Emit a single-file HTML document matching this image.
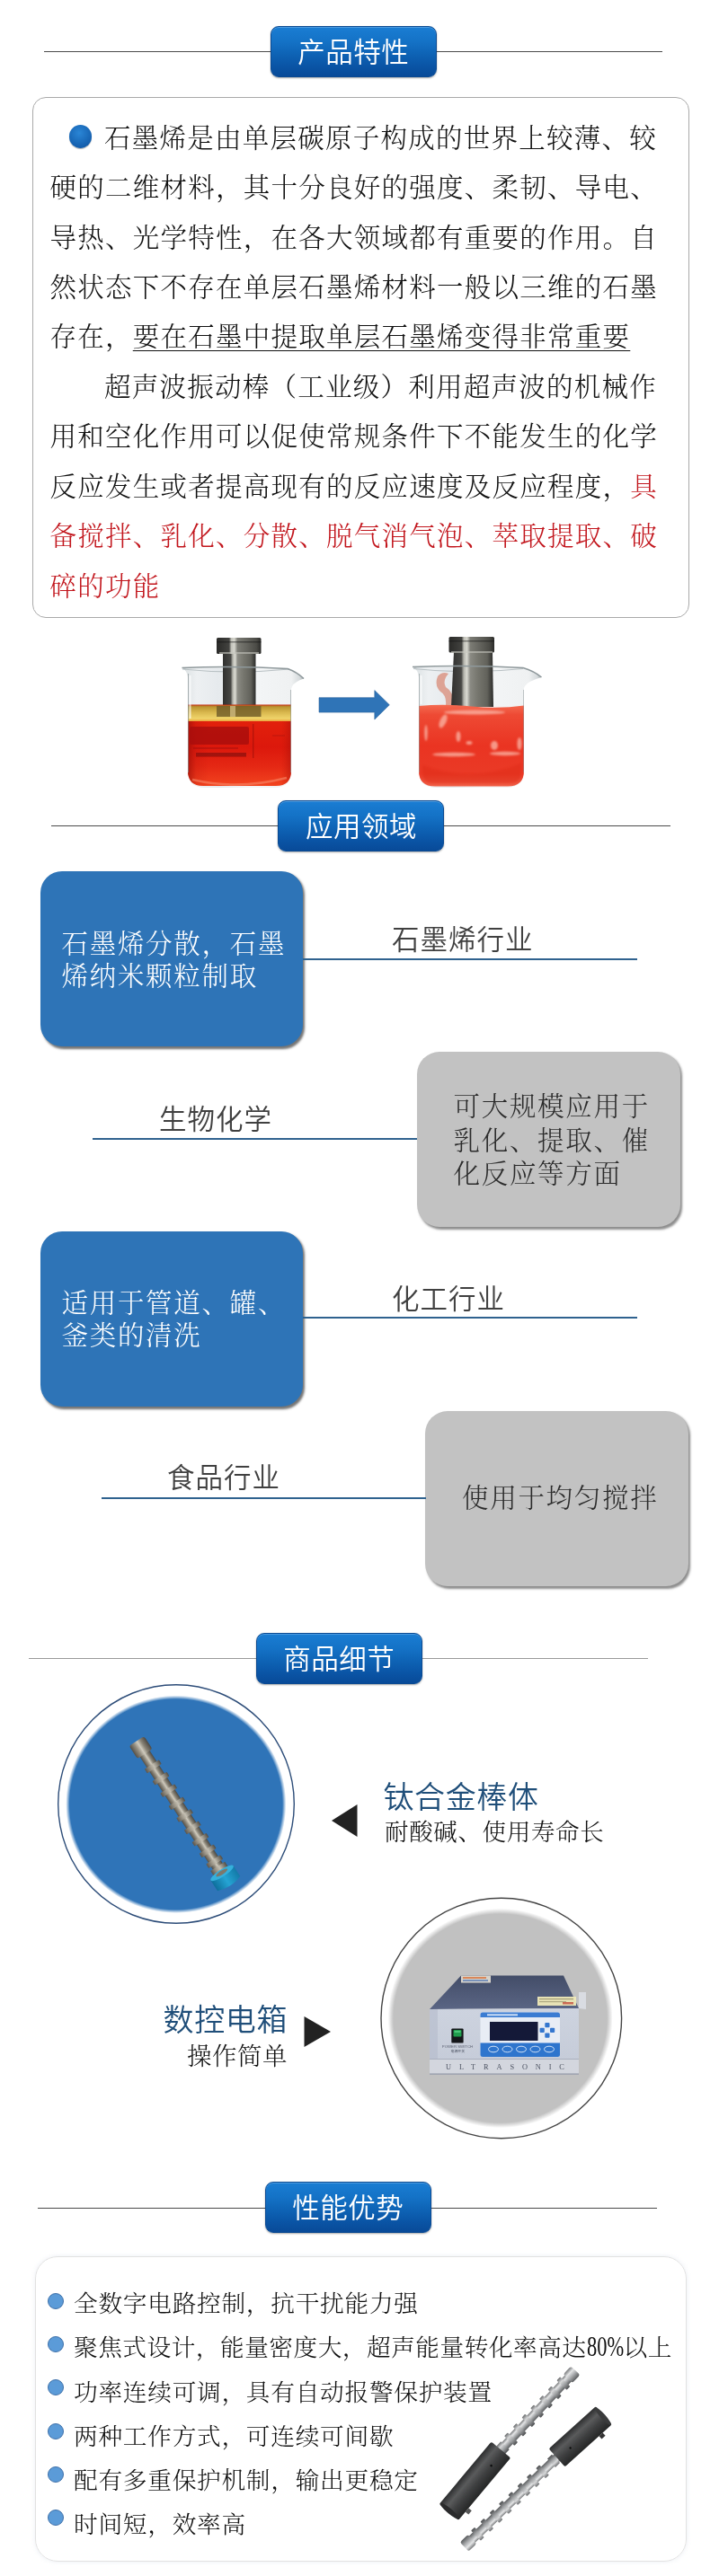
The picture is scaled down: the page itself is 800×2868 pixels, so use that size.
<!DOCTYPE html>
<html lang="zh-CN">
<head>
<meta charset="utf-8">
<title>产品特性</title>
<style>
*{margin:0;padding:0;box-sizing:border-box}
html,body{width:800px;height:2868px;background:#fff;overflow:hidden}
body{position:relative;font-family:"Liberation Serif","Noto Serif CJK SC",serif;color:#1a1a1a}
.abs{position:absolute}
.hr{position:absolute;height:1px;background:#4a4a4a}
.badge{position:absolute;width:185px;height:57.200px;border-radius:9px;
  background:linear-gradient(#1a7dd3 0%,#1472c6 30%,#0e63b5 55%,#0a54a5 80%,#084a98 100%);
  border:1px solid #0b4a92;box-shadow:inset 0 1px 0 #4b9be0,0 1px 2px rgba(0,0,0,.35);
  color:#fff;font-family:"Liberation Sans","Noto Sans CJK SC",sans-serif;font-weight:350;font-size:30.500px;
  line-height:57.400px;text-align:center;letter-spacing:0.500px;text-indent:0.500px}
.song{font-family:"Liberation Serif","Noto Serif CJK SC",serif;font-weight:300}
.hei{font-family:"Liberation Sans","Noto Sans CJK SC",sans-serif}
.ln{position:absolute;white-space:nowrap;line-height:40px;height:40px}
.p1 .ln{font-size:29.5px;letter-spacing:1.25px;left:55.5px;color:#111}
.p1 .red,.red{color:#c2161d}
.u{text-decoration:underline;text-decoration-thickness:1.200px;text-underline-offset:4.500px}

.bbox{position:absolute;background:#2e74b7;border-radius:24px;box-shadow:2px 2.500px 2.500px rgba(0,0,0,.55)}
.gbox{position:absolute;background:#c2c2c2;border-radius:25px;box-shadow:2px 2.500px 2.500px rgba(0,0,0,.45)}
.bl{position:absolute;height:2px;background:#2f628f}
.wt{position:absolute;color:#fff;font-size:29.500px;letter-spacing:1.700px;line-height:36.300px;white-space:nowrap;font-weight:300}
.gt{position:absolute;color:#2b2b2b;font-size:29.500px;letter-spacing:1.700px;line-height:37.5px;white-space:nowrap;font-weight:300}
.ht{position:absolute;color:#404040;font-size:30.500px;letter-spacing:1px;line-height:40px;white-space:nowrap;font-weight:350}

.li{position:absolute;left:82px;font-size:26.700px;letter-spacing:0.720px;line-height:40px;white-space:nowrap;color:#111;font-weight:300}
.dot{position:absolute;left:52.600px;width:18px;height:18px;border-radius:50%;background:#5b9bd8;border:1.200px solid #3f70a8}
</style>
</head>
<body>
<div id="pg" style="position:absolute;left:0;top:0;width:800px;height:2868px;will-change:transform;transform:translateZ(0)">

<!-- ===== Section 1 : 产品特性 ===== -->
<div class="hr" style="left:49px;top:57px;width:688px"></div>
<div class="badge" style="left:300.500px;top:28.800px">产品特性</div>

<div class="abs" style="left:36px;top:108px;width:731px;height:580px;border:1px solid #a9a9a9;border-radius:15px"></div>
<div class="abs" style="left:76.800px;top:139px;width:25.600px;height:25.600px;border-radius:50%;background:radial-gradient(circle at 45% 35%,#2a86d6,#145fae 70%,#0f4f96);box-shadow:0 1px 1px rgba(0,0,0,.3)"></div>
<div class="p1 song">
<div class="ln" style="top:133.5px;left:116px">石墨烯是由单层碳原子构成的世界上较薄、较</div>
<div class="ln" style="top:188.5px">硬的二维材料，其十分良好的强度、柔韧、导电、</div>
<div class="ln" style="top:244.5px">导热、光学特性，在各大领域都有重要的作用。自</div>
<div class="ln" style="top:299.5px">然状态下不存在单层石墨烯材料一般以三维的石墨</div>
<div class="ln" style="top:354.5px">存在，<span class="u">要在石墨中提取单层石墨烯变得非常重要</span></div>
<div class="ln" style="top:410.5px;left:116px">超声波振动棒（工业级）利用超声波的机械作</div>
<div class="ln" style="top:465.5px">用和空化作用可以促使常规条件下不能发生的化学</div>
<div class="ln" style="top:521.5px">反应发生或者提高现有的反应速度及反应程度，<span class="red">具</span></div>
<div class="ln red" style="top:576.5px">备搅拌、乳化、分散、脱气消气泡、萃取提取、破</div>
<div class="ln red" style="top:632.5px">碎的功能</div>
</div>


<!-- ===== beakers ===== -->
<svg class="abs" style="left:180px;top:700px" width="440" height="190" viewBox="180 700 440 190">
<defs>
<linearGradient id="met" x1="0" x2="1" y1="0" y2="0">
 <stop offset="0" stop-color="#30302e"/><stop offset=".24" stop-color="#484845"/><stop offset=".3" stop-color="#b4b4ac"/><stop offset=".37" stop-color="#dadad2"/><stop offset=".45" stop-color="#8b8b84"/><stop offset=".62" stop-color="#77776f"/><stop offset=".85" stop-color="#62625b"/><stop offset="1" stop-color="#2c2c2a"/>
</linearGradient>
<linearGradient id="met2" x1="0" x2="1" y1="0" y2="0">
 <stop offset="0" stop-color="#2a2a28"/><stop offset=".28" stop-color="#42423f"/><stop offset=".33" stop-color="#c0c0b8"/><stop offset=".4" stop-color="#d6d6ce"/><stop offset=".47" stop-color="#7c7c75"/><stop offset=".7" stop-color="#62625c"/><stop offset=".9" stop-color="#4a4a45"/><stop offset="1" stop-color="#2a2a28"/>
</linearGradient>
<linearGradient id="glass" x1="0" x2="1" y1="0" y2="0">
 <stop offset="0" stop-color="#a7afb1"/><stop offset=".035" stop-color="#dfe4e6"/><stop offset=".12" stop-color="#edf0f2"/><stop offset=".3" stop-color="#e6eaed"/><stop offset=".55" stop-color="#f4f6f7"/><stop offset=".9" stop-color="#eff1f2"/><stop offset=".965" stop-color="#d6dbdd"/><stop offset="1" stop-color="#a9b1b3"/>
</linearGradient>
<linearGradient id="red1" x1="0" x2="0" y1="0" y2="1">
 <stop offset="0" stop-color="#e2200c"/><stop offset=".4" stop-color="#dc180c"/><stop offset=".7" stop-color="#e52814"/><stop offset="1" stop-color="#f2441f"/>
</linearGradient>
<linearGradient id="red1e" x1="0" x2="1" y1="0" y2="0">
 <stop offset="0" stop-color="#8a0a06" stop-opacity=".6"/><stop offset=".08" stop-color="#a00c08" stop-opacity=".15"/><stop offset=".2" stop-color="#a00c08" stop-opacity="0"/><stop offset=".9" stop-color="#c01a08" stop-opacity="0"/><stop offset="1" stop-color="#a00c08" stop-opacity=".45"/>
</linearGradient>
<linearGradient id="yel" x1="0" x2="0" y1="0" y2="1">
 <stop offset="0" stop-color="#c42a10"/><stop offset=".12" stop-color="#b99530"/><stop offset=".45" stop-color="#d9b84e"/><stop offset=".8" stop-color="#f0d46a"/><stop offset="1" stop-color="#e8902a"/>
</linearGradient>
<linearGradient id="red2" x1="0" x2="0" y1="0" y2="1">
 <stop offset="0" stop-color="#f46a50"/><stop offset=".12" stop-color="#ee4a34"/><stop offset=".5" stop-color="#ea3422"/><stop offset=".85" stop-color="#ea3a26"/><stop offset="1" stop-color="#f06048"/>
</linearGradient>
<filter id="bl1" x="-20%" y="-20%" width="140%" height="140%"><feGaussianBlur stdDeviation="1.1"/></filter>
<filter id="bl2" x="-20%" y="-20%" width="140%" height="140%"><feGaussianBlur stdDeviation="0.7"/></filter>
</defs>

<!-- beaker 1 -->
<g>
 <path d="M202.500 743.500 Q208 746 209 754 L209 858 Q209 877 228 877 L305 877 Q324 877 324 858 L324 767 Q325 760 338 755.500 Q330 748 320 744.500 Z" fill="url(#glass)"/>
 <path d="M203 745 Q262 751 322 745" stroke="#b9c1c4" stroke-width="1.200" fill="none"/>
 <rect x="248" y="727" width="36.500" height="59" fill="url(#met)"/>
 <rect x="241" y="710" width="49.500" height="18" rx="1.500" fill="url(#met2)"/>
 <rect x="241" y="714" width="49.500" height="1.500" fill="#111" opacity=".45"/>
 <rect x="244" y="726" width="44" height="2" fill="#c8c8c0" opacity=".6"/>
 <rect x="209" y="784.500" width="115" height="19.500" fill="url(#yel)"/>
 <rect x="241" y="786" width="49.500" height="12" fill="#6e5a28" opacity=".8"/>
 <rect x="256" y="786" width="6" height="12" fill="#d9c48a" opacity=".7"/>
 <path d="M209 803 L324 803 L324 858 Q324 875 307 875 L226 875 Q209 875 209 858Z" fill="url(#red1)"/>
 <path d="M209 803 L324 803 L324 858 Q324 875 307 875 L226 875 Q209 875 209 858Z" fill="url(#red1e)"/>
 <rect x="211" y="809" width="66" height="20" rx="2" fill="#a8100c" opacity=".8" filter="url(#bl2)"/>
 <rect x="218" y="838" width="56" height="4.500" fill="#7a0c08" opacity=".6" filter="url(#bl2)"/>
 <rect x="215" y="832" width="50" height="2" fill="#9a100a" opacity=".4" filter="url(#bl2)"/>
 <rect x="281" y="806" width="1.400" height="38" fill="#a0100a" opacity=".65"/>
 <rect x="303" y="818" width="14" height="2" fill="#b41408" opacity=".4" filter="url(#bl2)"/>
 <path d="M214 868 Q265 880 319 866" stroke="#f88a6a" stroke-width="2.500" fill="none" opacity=".6" filter="url(#bl2)"/>
 <path d="M202.500 743.500 Q262 741 320 744.500 Q330 748 338 755.500" stroke="#8e989b" stroke-width="1.500" fill="none"/>
 <path d="M211.500 752 L211.500 800" stroke="#fff" stroke-width="2" opacity=".7"/>
 <path d="M209.500 750 L209.500 860" stroke="#8b9597" stroke-width="1" opacity=".7"/>
 <path d="M323.500 768 L323.500 860" stroke="#8b9597" stroke-width="1" opacity=".6"/>
</g>

<!-- arrow -->
<path d="M355 776.700 L416.800 776.700 L416.800 768.600 L433.300 784.800 L416.800 801 L416.800 793.100 L355 793.100Z" fill="#2f74b7" stroke="#2c639c" stroke-width=".6"/>

<!-- beaker 2 -->
<g>
 <path d="M459 742.500 Q465 745 466 754 L466 858 Q466 877 486 877 L563 877 Q583 877 583 858 L583 766 Q585 759 602.500 754 Q594 747 582 743.500 Z" fill="url(#glass)"/>
 <path d="M460 744.500 Q522 751 582 744.500" stroke="#b9c1c4" stroke-width="1.200" fill="none"/>
 <path d="M487 753 q5 -6 12 -3 q-7 8 -3 15 q9 5 9 20 l-9 0 q1 -11 -6 -15 q-7 -7 -3 -17z" fill="#dc9c8c" opacity=".9" filter="url(#bl2)"/>
 <path d="M505 726 L548 726 L549 787 L502 787Z" fill="url(#met)"/>
 <rect x="499.500" y="709" width="50.500" height="17.500" rx="1.500" fill="url(#met2)"/>
 <rect x="499.500" y="713" width="50.500" height="1.500" fill="#111" opacity=".45"/>
 <rect x="502" y="725" width="46" height="2" fill="#c8c8c0" opacity=".6"/>
 <path d="M466 786 Q495 783.500 525 786.500 T583 785.500 L583 858 Q583 875.500 565 875.500 L484 875.500 Q466 875.500 466 858Z" fill="url(#red2)"/>
 <g fill="#fbb8a8" opacity=".75" filter="url(#bl1)">
  <ellipse cx="493" cy="803" rx="3.500" ry="8" transform="rotate(25 493 803)"/>
  <ellipse cx="510" cy="820" rx="2.500" ry="6"/>
  <ellipse cx="522" cy="827" rx="3.500" ry="2"/>
  <ellipse cx="550" cy="830" rx="4" ry="5"/>
  <ellipse cx="474" cy="816" rx="1.800" ry="9"/>
  <ellipse cx="505" cy="840" rx="24" ry="2.200"/>
  <ellipse cx="562" cy="839" rx="17" ry="2.200"/>
  <ellipse cx="578" cy="828" rx="2.500" ry="7"/>
  <ellipse cx="528" cy="793" rx="34" ry="2.500"/>
 </g>
 <path d="M470 852 Q525 872 580 850 L580 860 Q580 872 568 872 L482 872 Q470 872 470 860Z" fill="#de2a18" opacity=".45" filter="url(#bl1)"/>
 <path d="M459 742.500 Q522 740 582 743.500 Q594 747 602.500 754" stroke="#8e989b" stroke-width="1.500" fill="none"/>
 <path d="M468.500 752 L468.500 784" stroke="#fff" stroke-width="2" opacity=".7"/>
 <path d="M466.500 750 L466.500 860" stroke="#8b9597" stroke-width="1" opacity=".6"/>
 <path d="M582.500 768 L582.500 860" stroke="#8b9597" stroke-width="1" opacity=".5"/>
</g>
</svg>


<!-- ===== Section 2 : 应用领域 ===== -->
<div class="hr" style="left:57px;top:919px;width:689px"></div>
<div class="badge" style="left:309.200px;top:890.500px">应用领域</div>

<div class="bbox" style="left:45.300px;top:970.300px;width:292px;height:194.800px"></div>
<div class="wt song" style="left:68.500px;top:1033px">石墨烯分散，石墨<br>烯纳米颗粒制取</div>
<div class="bl" style="left:337px;top:1067px;width:372px"></div>
<div class="ht hei" style="left:436px;top:1026px">石墨烯行业</div>

<div class="gbox" style="left:463.700px;top:1171.300px;width:293.300px;height:194.300px"></div>
<div class="gt song" style="left:504.500px;top:1214.300px">可大规模应用于<br>乳化、提取、催<br>化反应等方面</div>
<div class="bl" style="left:103px;top:1267px;width:361px"></div>
<div class="ht hei" style="left:177px;top:1226px">生物化学</div>

<div class="bbox" style="left:45.300px;top:1370.800px;width:292px;height:194.800px"></div>
<div class="wt song" style="left:68.500px;top:1433px">适用于管道、罐、<br>釜类的清洗</div>
<div class="bl" style="left:337px;top:1466px;width:372px"></div>
<div class="ht hei" style="left:436px;top:1426px">化工行业</div>

<div class="gbox" style="left:473px;top:1571.300px;width:293.300px;height:194.300px"></div>
<div class="gt song" style="left:514px;top:1649.500px">使用于均匀搅拌</div>
<div class="bl" style="left:113px;top:1667px;width:361px"></div>
<div class="ht hei" style="left:186px;top:1625px">食品行业</div>


<!-- ===== Section 3 : 商品细节 ===== -->
<div class="hr" style="left:32px;top:1846px;width:689px;background:#9a9a9a"></div>
<div class="badge" style="left:284.500px;top:1817.500px">商品细节</div>

<svg class="abs" style="left:56px;top:1868px" width="280" height="282" viewBox="56 1868 280 282">
<defs>
<radialGradient id="bc" cx=".5" cy=".5" r=".5">
 <stop offset="0" stop-color="#2f74b8"/><stop offset=".965" stop-color="#2f74b8"/><stop offset=".982" stop-color="#2f74b8" stop-opacity=".5"/><stop offset="1" stop-color="#2f74b8" stop-opacity="0"/>
</radialGradient>
<linearGradient id="rodg" x1="0" x2="1" y1="0" y2="0">
 <stop offset="0" stop-color="#544f46"/><stop offset=".3" stop-color="#958f82"/><stop offset=".5" stop-color="#cfcabd"/><stop offset=".7" stop-color="#8a8578"/><stop offset="1" stop-color="#4c4842"/>
</linearGradient>
<linearGradient id="rodg2" x1="0" x2="1" y1="0" y2="0">
 <stop offset="0" stop-color="#5a554c"/><stop offset=".35" stop-color="#a29c8f"/><stop offset=".55" stop-color="#c4bfb2"/><stop offset="1" stop-color="#514d45"/>
</linearGradient>
<linearGradient id="cy" x1="0" x2="1" y1="0" y2="0">
 <stop offset="0" stop-color="#0e6f9c"/><stop offset=".5" stop-color="#25a4d4"/><stop offset="1" stop-color="#137aa8"/>
</linearGradient>
</defs>
<ellipse cx="196" cy="2008.500" rx="131.300" ry="132.800" fill="#fff" stroke="#2c4c78" stroke-width="1.400"/>
<ellipse cx="195.800" cy="2008.800" rx="122.600" ry="121.200" fill="url(#bc)"/>
<g transform="translate(202.500 2016.500) rotate(-32.900)">
 <rect x="-6.500" y="-78" width="13" height="162" fill="url(#rodg)"/>
 <rect x="-10" y="-93" width="20" height="17" rx="3" fill="url(#rodg)"/>
 <rect x="-9.500" y="-62" width="19" height="5.500" rx="1" fill="url(#rodg2)"/><rect x="-9.500" y="-46" width="19" height="5.500" rx="1" fill="url(#rodg2)"/><rect x="-9.500" y="-30" width="19" height="5.500" rx="1" fill="url(#rodg2)"/><rect x="-9.500" y="-13" width="19" height="5.500" rx="1" fill="url(#rodg2)"/><rect x="-9.500" y="3" width="19" height="5.500" rx="1" fill="url(#rodg2)"/><rect x="-9.500" y="19" width="19" height="5.500" rx="1" fill="url(#rodg2)"/><rect x="-9.500" y="35" width="19" height="5.500" rx="1" fill="url(#rodg2)"/><rect x="-9.500" y="50" width="19" height="5.500" rx="1" fill="url(#rodg2)"/><rect x="-9.500" y="64" width="19" height="5.500" rx="1" fill="url(#rodg2)"/>
 <rect x="-9.500" y="73" width="19" height="7" fill="url(#rodg2)"/>
 <path d="M-15 82 L15 82 L15 96 Q0 101.500 -15 96Z" fill="url(#cy)"/>
 <ellipse cx="0" cy="82" rx="15" ry="4" fill="#35b0dc"/>
 <ellipse cx="0" cy="81.500" rx="7.500" ry="2.200" fill="#7d786c"/>
</g>
</svg>
<svg class="abs" style="left:368px;top:2008px" width="31" height="38" viewBox="0 0 31 38"><path d="M1 19 L29.500 1 L29.500 37Z" fill="#222"/></svg>
<div class="abs hei" style="left:426.500px;top:1979px;font-size:34px;letter-spacing:0.600px;line-height:44px;color:#1f4e79;white-space:nowrap;font-weight:350">钛合金棒体</div>
<div class="abs song" style="left:428px;top:2020.500px;font-size:26.500px;letter-spacing:0.650px;line-height:38px;color:#111;white-space:nowrap;font-weight:300">耐酸碱、使用寿命长</div>

<svg class="abs" style="left:418px;top:2104px" width="280" height="284" viewBox="418 2104 280 284">
<defs>
<radialGradient id="gc" cx=".5" cy=".5" r=".5">
 <stop offset="0" stop-color="#c1c1c1"/><stop offset=".95" stop-color="#c1c1c1"/><stop offset=".975" stop-color="#c1c1c1" stop-opacity=".5"/><stop offset="1" stop-color="#c1c1c1" stop-opacity="0"/>
</radialGradient>
<linearGradient id="topf" x1="0" x2="0" y1="0" y2="1"><stop offset="0" stop-color="#434d68"/><stop offset="1" stop-color="#5a6584"/></linearGradient>
<linearGradient id="frontf" x1="0" x2="0" y1="0" y2="1"><stop offset="0" stop-color="#cdd3df"/><stop offset="1" stop-color="#c4cad7"/></linearGradient>
</defs>
<circle cx="557.800" cy="2247" r="133.800" fill="#fff" stroke="#454545" stroke-width="1.400"/>
<ellipse cx="556.600" cy="2247" rx="125" ry="122.200" fill="url(#gc)"/>
<path d="M513 2199.500 L627 2199.500 L644 2236 L478 2237Z" fill="url(#topf)"/>
<path d="M644 2218 L652 2218 L652 2237 L644 2236Z" fill="#d9dce2"/>
<rect x="513" y="2199.500" width="33" height="8" fill="#e8e2d6" opacity=".9"/>
<rect x="515" y="2201" width="26" height="2" fill="#d9662a" opacity=".7"/>
<rect x="515" y="2204" width="28" height="2" fill="#3a66b0" opacity=".6"/>
<rect x="598" y="2223" width="43" height="10" fill="#efe9b8" opacity=".95"/>
<rect x="600" y="2225" width="38" height="1.200" fill="#8a8560" opacity=".7"/>
<rect x="600" y="2228" width="30" height="1.200" fill="#8a8560" opacity=".6"/>
<rect x="626" y="2229" width="12" height="2.500" fill="#c0392b" opacity=".7"/>
<path d="M478 2237 L644 2236 L644 2309.500 L478 2309.500Z" fill="url(#frontf)"/>
<rect x="478" y="2237" width="9" height="72.500" fill="#b4bbcb" opacity=".6"/>
<rect x="478" y="2292.500" width="166" height="17" fill="#d3d6de"/>
<rect x="478" y="2292" width="166" height="1" fill="#aab0be"/>
<rect x="478" y="2308.500" width="166" height="1.200" fill="#8f95a3"/>
<rect x="534.500" y="2240.500" width="88.500" height="49.500" rx="2.500" fill="#e8edf5"/>
<path d="M534.500 2246 L534.500 2243 Q534.500 2240.500 537 2240.500 L620.500 2240.500 Q623 2240.500 623 2243 L623 2246Z" fill="#3b7cd2"/>
<path d="M534.500 2274.500 L623 2274.500 L623 2287.500 Q623 2290 620.500 2290 L537 2290 Q534.500 2290 534.500 2287.500Z" fill="#2e75cd"/>
<rect x="545" y="2251" width="53.500" height="21" fill="#141938"/>
<rect x="542" y="2242.300" width="34" height="2" fill="#e8f0fb" opacity=".85"/>
<g fill="#3577cf"><rect x="606.300" y="2252" width="5.200" height="5.200" rx="1"/><rect x="606.300" y="2263.500" width="5.200" height="5.200" rx="1"/><rect x="600.600" y="2257.800" width="5.200" height="5.200" rx="1"/><rect x="612" y="2257.800" width="5.200" height="5.200" rx="1"/></g>
<g fill="none" stroke="#e4eefb" stroke-width=".9"><ellipse cx="549" cy="2281.500" rx="5.500" ry="3.300"/><ellipse cx="564.500" cy="2281.500" rx="5.500" ry="3.300"/><ellipse cx="580" cy="2281.500" rx="5.500" ry="3.300"/><ellipse cx="595.500" cy="2281.500" rx="5.500" ry="3.300"/><ellipse cx="611" cy="2281.500" rx="5.500" ry="3.300"/></g>
<rect x="502.300" y="2258.400" width="13.300" height="16.200" rx="1.200" fill="#14161a"/>
<rect x="504.500" y="2260" width="9" height="7.500" rx=".8" fill="#1f9c4c"/>
<rect x="505.500" y="2261" width="7" height="2" fill="#58d084" opacity=".8"/>
<text x="509" y="2279.500" font-family="Liberation Sans, sans-serif" font-size="4.300" fill="#5a6070" text-anchor="middle">POWER SWITCH</text>
<text x="509.300" y="2284.800" font-family="Liberation Sans, Noto Sans CJK SC, sans-serif" font-size="3.900" fill="#4a5060" text-anchor="middle">电源开关</text>
<text x="496" y="2304.300" font-family="Liberation Serif, serif" font-size="8.300" fill="#4b5160" letter-spacing="8.900">ULTRASONIC</text>
</svg>
<svg class="abs" style="left:337px;top:2244px" width="32" height="36" viewBox="0 0 32 36"><path d="M1.500 1 L31 18 L1.500 35Z" fill="#222"/></svg>
<div class="abs hei" style="left:120px;top:2226.500px;width:200px;text-align:right;font-size:34px;letter-spacing:0.600px;line-height:44px;color:#1f4e79;white-space:nowrap;font-weight:350">数控电箱</div>
<div class="abs song" style="left:120px;top:2270.800px;width:200px;text-align:right;font-size:27.500px;letter-spacing:0.500px;line-height:38px;color:#111;white-space:nowrap;font-weight:300">操作简单</div>


<!-- ===== Section 4 : 性能优势 ===== -->
<div class="hr" style="left:42px;top:2458px;width:689px"></div>
<div class="badge" style="left:294.500px;top:2428.900px">性能优势</div>
<div class="abs" style="left:39px;top:2512.300px;width:725px;height:340px;border:1px solid #e2e2e2;border-radius:25px;box-shadow:0 0 5px rgba(160,175,200,.22)"></div>
<div class="dot" style="top:2552.8px"></div><div class="li song" style="top:2545.2px">全数字电路控制，抗干扰能力强</div>
<div class="dot" style="top:2601.1px"></div><div class="li song" style="top:2594.4px;letter-spacing:0.480px">聚焦式设计，能量密度大，超声能量转化率高达<span style="display:inline-block;width:41px;height:30px;vertical-align:baseline;white-space:nowrap"><span style="display:inline-block;transform:scaleX(.725);transform-origin:0 50%;font-size:31px;line-height:30px;font-weight:400;letter-spacing:0">80%</span></span>以上</div>
<div class="dot" style="top:2649.4px"></div><div class="li song" style="top:2643.6px">功率连续可调，具有自动报警保护装置</div>
<div class="dot" style="top:2697.7px"></div><div class="li song" style="top:2692.8px">两种工作方式，可连续可间歇</div>
<div class="dot" style="top:2746.0px"></div><div class="li song" style="top:2742.0px">配有多重保护机制，输出更稳定</div>
<div class="dot" style="top:2794.3px"></div><div class="li song" style="top:2791.2px">时间短，效率高</div>


<!-- probes -->
<svg class="abs" style="left:470px;top:2620px" width="240" height="230" viewBox="470 2620 240 230">
<defs>
<linearGradient id="pr" x1="0" x2="0" y1="0" y2="1">
 <stop offset="0" stop-color="#77797b"/><stop offset=".3" stop-color="#e4e5e6"/><stop offset=".55" stop-color="#b4b6b8"/><stop offset="1" stop-color="#5a5c5e"/>
</linearGradient>
<linearGradient id="pr2" x1="0" x2="0" y1="0" y2="1">
 <stop offset="0" stop-color="#6b6d6f"/><stop offset=".3" stop-color="#d6d7d8"/><stop offset=".6" stop-color="#a2a4a6"/><stop offset="1" stop-color="#4c4e50"/>
</linearGradient>
<linearGradient id="dk" x1="0" x2="0" y1="0" y2="1">
 <stop offset="0" stop-color="#2c2d2e"/><stop offset=".3" stop-color="#5a5b5c"/><stop offset=".6" stop-color="#3f4041"/><stop offset="1" stop-color="#252626"/>
</linearGradient>
</defs>
<g transform="translate(499.400 2796.900) rotate(-50.100)">
 <g transform="rotate(3.300 90 0)"><rect x="84" y="-5" width="120" height="10" fill="url(#pr)"/>
 <rect x="104.0" y="-7.75" width="5.5" height="15.5" rx="1" fill="url(#pr2)"/><rect x="118.2" y="-7.75" width="5.5" height="15.5" rx="1" fill="url(#pr2)"/><rect x="132.4" y="-7.75" width="5.5" height="15.5" rx="1" fill="url(#pr2)"/><rect x="146.6" y="-7.75" width="5.5" height="15.5" rx="1" fill="url(#pr2)"/><rect x="160.8" y="-7.75" width="5.5" height="15.5" rx="1" fill="url(#pr2)"/><rect x="175.0" y="-7.75" width="5.5" height="15.5" rx="1" fill="url(#pr2)"/><rect x="189.2" y="-7.75" width="5.5" height="15.5" rx="1" fill="url(#pr2)"/>
 <rect x="199" y="-7" width="12.500" height="14" rx="2.500" fill="url(#pr)"/>
 <rect x="90" y="-6.500" width="7" height="13" fill="url(#pr2)"/></g>
 <rect x="0" y="-14" width="90.500" height="28" rx="2" fill="url(#dk)"/>
 <ellipse cx="1.500" cy="0" rx="2.800" ry="13.500" fill="#2a2b2c"/>
 <circle cx="70" cy="3" r="1.300" fill="#0c0c0c"/>
 <rect x="12" y="14" width="5.500" height="4.500" fill="#555"/>
</g>
<g transform="translate(671.900 2689.100) rotate(137.900)">
 <g transform="rotate(-1.800 70 0)"><rect x="66" y="-5" width="140" height="10" fill="url(#pr)"/>
 <rect x="90.0" y="-7.75" width="5.5" height="15.5" rx="1" fill="url(#pr2)"/><rect x="104.3" y="-7.75" width="5.5" height="15.5" rx="1" fill="url(#pr2)"/><rect x="118.6" y="-7.75" width="5.5" height="15.5" rx="1" fill="url(#pr2)"/><rect x="132.9" y="-7.75" width="5.5" height="15.5" rx="1" fill="url(#pr2)"/><rect x="147.2" y="-7.75" width="5.5" height="15.5" rx="1" fill="url(#pr2)"/><rect x="161.5" y="-7.75" width="5.5" height="15.5" rx="1" fill="url(#pr2)"/><rect x="175.8" y="-7.75" width="5.5" height="15.5" rx="1" fill="url(#pr2)"/><rect x="190.1" y="-7.75" width="5.5" height="15.5" rx="1" fill="url(#pr2)"/>
 <rect x="201" y="-7" width="12.500" height="14" rx="2.500" fill="url(#pr)"/>
 <rect x="72" y="-6.500" width="7" height="13" fill="url(#pr2)"/></g>
 <rect x="0" y="-13.500" width="70.500" height="27" rx="2" fill="url(#dk)" transform="scale(1 -1)"/>
 <ellipse cx="1.500" cy="0" rx="2.800" ry="13" fill="#3a3b3c"/>
 <circle cx="52" cy="-2" r="1.200" fill="#0c0c0c"/>
 <rect x="14" y="-18" width="5.500" height="4.500" fill="#333"/>
</g>
</svg>

</div>
</body>
</html>
